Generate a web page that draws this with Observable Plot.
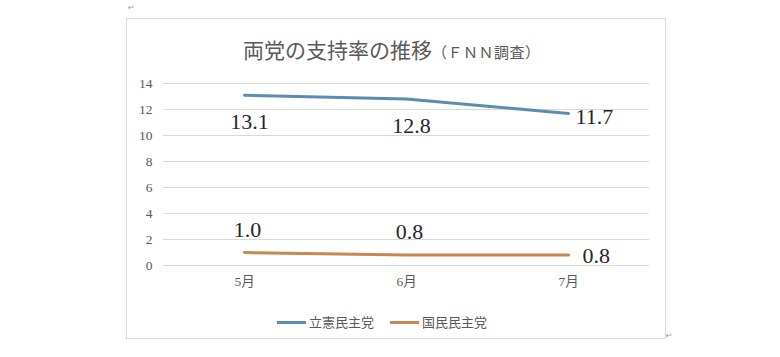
<!DOCTYPE html>
<html><head><meta charset="utf-8">
<script src="https://cdn.jsdelivr.net/npm/d3@7"></script>
<script src="https://cdn.jsdelivr.net/npm/@observablehq/plot@0.6"></script>
<style>
html,body{margin:0;padding:0;background:#fff;}
body{width:780px;height:357px;position:relative;overflow:hidden;font-family:"Liberation Serif","Noto Sans CJK JP",serif;}
#box{position:absolute;left:126px;top:18px;width:540px;height:321px;box-sizing:border-box;border:1px solid #d9d9d9;}
#title{position:absolute;left:243px;top:36px;color:#595959;font-family:"Noto Sans CJK JP",sans-serif;font-size:21px;line-height:26px;white-space:nowrap;}
#title span{font-size:15px;letter-spacing:0.5px;}
#chart{position:absolute;left:126px;top:60px;}
#legend{position:absolute;left:277px;top:312px;display:flex;align-items:center;color:#595959;font-family:"Noto Sans CJK JP",sans-serif;font-size:13px;line-height:20px;white-space:nowrap;}
#legend .sw{display:inline-block;width:29px;height:3px;margin-right:3px;}
#legend .item{display:flex;align-items:center;margin-right:16px;}
.mark{position:absolute;font-size:8px;color:#9a9a9a;font-family:"DejaVu Sans",sans-serif;}
</style>
</head><body>
<div id="box"></div>
<div class="mark" style="left:128px;top:3px;">↵</div>
<div class="mark" style="left:666px;top:331px;">↵</div>
<div id="title">両党の支持率の推移<span>（ＦＮＮ調査）</span></div>
<div id="chart"></div>
<div id="legend"></div>
<script>
const months = ["5月", "6月", "7月"];
const seriesNames = ["立憲民主党", "国民民主党"];
const cdp = [13.1, 12.8, 11.7];
const dpfp = [1.0, 0.8, 0.8];
const yTicks = [0, 2, 4, 6, 8, 10, 12, 14];
const colors = ["#5b8cb2", "#c9874d"];

const rows = [];
months.forEach((m, i) => {
  rows.push({month: m, series: seriesNames[0], value: cdp[i], idx: i});
  rows.push({month: m, series: seriesNames[1], value: dpfp[i], idx: i});
});
const last = months.length - 1;
const labelFont = {fontFamily: "Liberation Serif, serif", fontSize: 22, fill: "#262626"};

const plot = Plot.plot({
  width: 540,
  height: 240,
  marginTop: 23,
  marginBottom: 35,
  marginLeft: 37,
  marginRight: 17,
  style: {color: "#595959", background: "transparent", overflow: "visible", fontSize: "13.5px", fontFamily: "'Liberation Serif', 'Noto Sans CJK JP', serif"},
  x: {type: "point", domain: months, padding: 0.5},
  y: {domain: [0, 14]},
  color: {domain: seriesNames, range: colors},
  marks: [
    Plot.ruleY(yTicks, {stroke: "#d9d9d9", strokeWidth: 1}),
    Plot.axisY({ticks: yTicks, tickSize: 0, tickPadding: 11, label: null}),
    Plot.axisX({tickSize: 0, tickPadding: 11, label: null}),
    Plot.lineY(rows, {x: "month", y: "value", z: "series", stroke: "series", strokeWidth: 3}),
    // 立憲民主党: labels below, last one to the right
    Plot.text(rows.filter(d => d.series === seriesNames[0] && d.idx < last),
      {x: "month", y: "value", text: d => d.value.toFixed(1), dy: 27, dx: 5, ...labelFont}),
    Plot.text(rows.filter(d => d.series === seriesNames[0] && d.idx === last),
      {x: "month", y: "value", text: d => d.value.toFixed(1), dx: 7, dy: 4, textAnchor: "start", ...labelFont}),
    // 国民民主党: labels above, last one to the right
    Plot.text(rows.filter(d => d.series === seriesNames[1] && d.idx < last),
      {x: "month", y: "value", text: d => d.value.toFixed(1), dy: -23, dx: 3, ...labelFont}),
    Plot.text(rows.filter(d => d.series === seriesNames[1] && d.idx === last),
      {x: "month", y: "value", text: d => d.value.toFixed(1), dx: 14, dy: 1, textAnchor: "start", ...labelFont})
  ]
});
document.getElementById("chart").appendChild(plot);

const legend = document.getElementById("legend");
seriesNames.forEach((name, i) => {
  const item = document.createElement("span");
  item.className = "item";
  const sw = document.createElement("span");
  sw.className = "sw";
  sw.style.background = colors[i];
  item.appendChild(sw);
  item.appendChild(document.createTextNode(name));
  legend.appendChild(item);
});
</script>
</body></html>
